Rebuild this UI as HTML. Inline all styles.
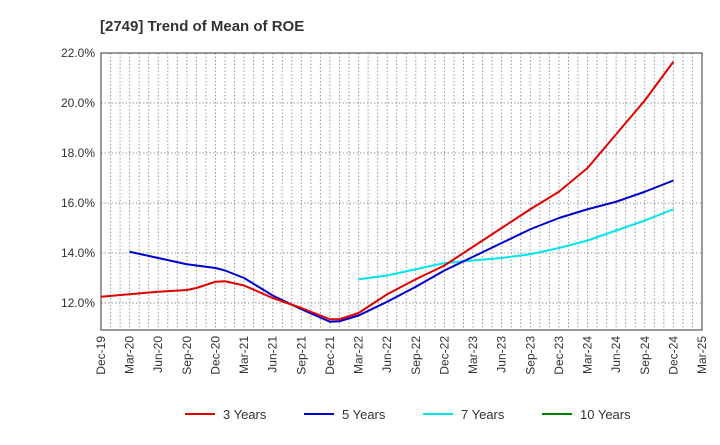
<!DOCTYPE html>
<html><head><meta charset="utf-8"><style>
body{margin:0;background:#fff;font-family:"Liberation Sans",sans-serif;}
</style></head><body>
<svg id="chart" width="720" height="440" xmlns="http://www.w3.org/2000/svg">
<text x="100" y="31" font-size="15" font-weight="bold" fill="#333">[2749]  Trend of Mean of ROE</text>
<g id="grid"></g><g id="axes"></g><g id="series"></g>
<g id="legend"></g>
</svg>
<script>
const xLabels=["Dec-19","Mar-20","Jun-20","Sep-20","Dec-20","Mar-21","Jun-21","Sep-21","Dec-21","Mar-22","Jun-22","Sep-22","Dec-22","Mar-23","Jun-23","Sep-23","Dec-23","Mar-24","Jun-24","Sep-24","Dec-24","Mar-25"];
const yTicks=[12,14,16,18,20,22];
// month index from Dec-19
const m3=[0,3,6,9,10,12,13,15,18,21,24,25,27,30,33,36,39,42,45,48,51,54,57,60];
const v3=[12.25,12.35,12.45,12.52,12.6,12.85,12.87,12.7,12.2,11.8,11.35,11.35,11.6,12.35,12.95,13.5,14.25,15.0,15.75,16.45,17.4,18.75,20.1,21.65];
const m5=[3,6,9,12,13,15,18,21,24,25,27,30,33,36,39,42,45,48,51,54,57,60];
const v5=[14.05,13.8,13.55,13.4,13.3,13.0,12.3,11.75,11.25,11.27,11.5,12.05,12.65,13.3,13.85,14.4,14.95,15.4,15.75,16.05,16.45,16.9];
const m7=[27,30,33,36,39,42,45,48,51,54,57,60];
const v7=[12.95,13.1,13.35,13.6,13.7,13.8,13.95,14.2,14.5,14.9,15.3,15.75];
const L=101,R=702,T=53,B=330;
const X=m=>L+m*(R-L)/63;
const Y=v=>T+(22-v)*25;
const ns="http://www.w3.org/2000/svg";
function mk(p,t,a){const e=document.createElementNS(ns,t);for(const k in a)e.setAttribute(k,a[k]);document.getElementById(p).appendChild(e);return e;}
for(let m=1;m<63;m++){const g=mk('grid','line',{x1:X(m),x2:X(m),y1:T,y2:B,stroke:'#999','stroke-dasharray':'1.5,2','stroke-width':1});
}
yTicks.forEach(v=>{const g=mk('grid','line',{x1:L,x2:R,y1:Y(v),y2:Y(v),stroke:'#999','stroke-dasharray':'1.5,2'});

const t=mk('axes','text',{x:L-6,y:Y(v)+4,'text-anchor':'end','font-size':12,fill:'#333'});t.textContent=v.toFixed(1)+'%';
});
const fr=mk('axes','rect',{x:L,y:T,width:R-L,height:B-T,fill:'none',stroke:'#333','stroke-width':1});

xLabels.forEach((s,i)=>{const x=X(i*3);const t=mk('axes','text',{transform:`translate(${x+4},${B+6}) rotate(-90)`,'text-anchor':'end','font-size':12,fill:'#333'});t.textContent=s;
});
function line(ms,vs,c,n){const p=mk('series','polyline',{points:ms.map((m,i)=>X(m)+','+Y(vs[i])).join(' '),fill:'none',stroke:c,'stroke-width':2,'stroke-linejoin':'round'});
}
line(m7,v7,'#00e5ee','line-7-years');line(m5,v5,'#0000cc','line-5-years');line(m3,v3,'#e00000','line-3-years');
[["3 Years","#e00000",185],["5 Years","#0000cc",304],["7 Years","#00e5ee",423],["10 Years","#008000",542]].forEach(([s,c,x])=>{
const l=mk('legend','line',{x1:x,x2:x+30,y1:414,y2:414,stroke:c,'stroke-width':2});
const t=mk('legend','text',{x:x+38,y:419,'font-size':13,fill:'#333'});t.textContent=s;});
</script>
</body></html>
